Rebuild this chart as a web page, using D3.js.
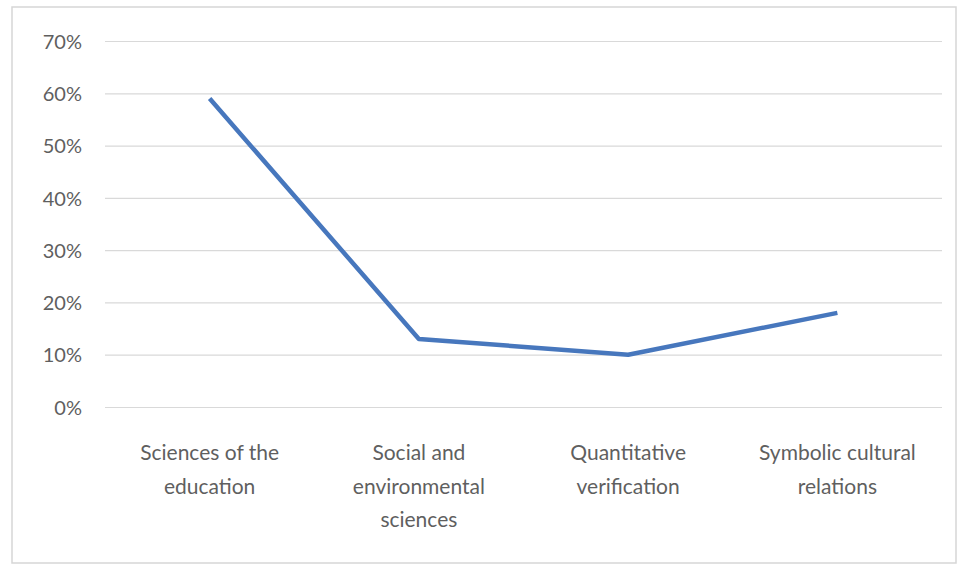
<!DOCTYPE html>
<html>
<head>
<meta charset="utf-8">
<script src="https://cdn.jsdelivr.net/npm/d3@7"></script>
<style>
  html, body { margin: 0; padding: 0; background: #fff; }
  svg { display: block; }
  .tick text, .cat text { font-family: Lato, "Open Sans", sans-serif; fill: #5f5f5f; }
</style>
</head>
<body>
<svg id="chart" width="960" height="567"></svg>
<script>
// Share of responses by knowledge area
const categories = [
  "Sciences of the education",
  "Social and environmental sciences",
  "Quantitative verification",
  "Symbolic cultural relations"
];
const values = [0.59, 0.13, 0.10, 0.18];
const yTicks = [0, 0.1, 0.2, 0.3, 0.4, 0.5, 0.6, 0.7];

const svg = d3.select("#chart");
const plot = { left: 105, right: 942, top: 41, bottom: 407 };

// chart frame
svg.append("rect")
  .attr("x", 12).attr("y", 7)
  .attr("width", 944).attr("height", 556)
  .attr("fill", "#fff")
  .attr("stroke", "#d6d6d6")
  .attr("stroke-width", 1.5);

const x = d3.scaleBand()
  .domain(categories)
  .range([plot.left, plot.right])
  .paddingInner(0).paddingOuter(0);

const y = d3.scaleLinear()
  .domain([0, 0.7])
  .range([plot.bottom, plot.top]);

// horizontal gridlines + percentage labels
const yAxis = d3.axisLeft(y)
  .tickValues(yTicks)
  .tickFormat(d3.format(".0%"))
  .tickSize(-(plot.right - plot.left))
  .tickPadding(23);

const gy = svg.append("g")
  .attr("transform", `translate(${plot.left},0)`)
  .call(yAxis);
gy.select(".domain").remove();
gy.selectAll(".tick line").attr("stroke", "#d9d9d9").attr("stroke-width", 1.2);
gy.selectAll(".tick text").attr("font-size", 20).attr("dy", "0.36em");

// category labels, wrapped under each band
const cat = svg.append("g").attr("class", "cat");
const maxW = 175;
const baseY = 460, lineH = 33.5;
categories.forEach(c => {
  const cx = x(c) + x.bandwidth() / 2;
  const t = cat.append("text")
    .attr("x", cx).attr("y", baseY)
    .attr("text-anchor", "middle")
    .attr("font-size", 21);
  const words = c.split(" ");
  let line = [];
  let lineNo = 0;
  let ts = t.append("tspan").attr("x", cx).attr("y", baseY);
  words.forEach(w => {
    line.push(w);
    ts.text(line.join(" "));
    if (ts.node().getComputedTextLength() > maxW && line.length > 1) {
      line.pop();
      ts.text(line.join(" "));
      line = [w];
      lineNo++;
      ts = t.append("tspan").attr("x", cx).attr("y", baseY + lineNo * lineH).text(w);
    }
  });
});

// data line
const line = d3.line()
  .x((d, i) => x(categories[i]) + x.bandwidth() / 2)
  .y(d => y(d));

svg.append("path")
  .datum(values)
  .attr("d", line)
  .attr("fill", "none")
  .attr("stroke", "#4777bd")
  .attr("stroke-width", 4.5)
  .attr("stroke-linejoin", "round");
</script>
</body>
</html>
